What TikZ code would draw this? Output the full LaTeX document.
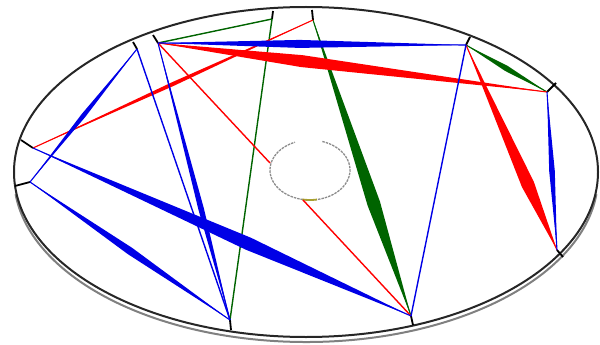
\documentclass[tikz,border=0pt]{standalone}
\usepackage{tikz}
\usetikzlibrary{calc}
\definecolor{chordblue}{HTML}{0000E6}
\definecolor{chordred}{HTML}{FF0000}
\definecolor{chordgreen}{HTML}{006400}
\definecolor{holeolive}{HTML}{A8A030}

% tapered chord: [peak position]{colour}{from}{to}{half width}
\newcommand{\spindle}[5][0.5]{%
  \fill[#2] (#3) -- ($(#3)!#1!(#4)!#5!90:(#4)$) -- (#4) -- ($(#3)!#1!(#4)!#5!-90:(#4)$) -- cycle;
  \draw[#2,line width=1.1pt] (#3) -- (#4);}

\begin{document}
\begin{tikzpicture}[x=1pt,y=-1pt,
  rim/.style={draw=black!85,line width=2pt},
  rimlow/.style={draw=black!50,line width=2pt},
  hole/.style={draw=black!45,dash pattern=on 2.5pt off 1pt,line width=1.3pt},
  tick/.style={draw=black,line width=1.8pt},
  thin/.style={line width=1.4pt}]

\useasboundingbox (0,0) rectangle (600,345);

% disc and hole
\draw[rimlow] (306,177) ++(6:292 and 165) arc [start angle=6,end angle=174,x radius=292,y radius=165];
\draw[rim] (306,172) ellipse [x radius=292,y radius=165];
\draw[hole] (310,170) ++(288:40 and 30) arc [start angle=288,end angle=608,x radius=40,y radius=30];
\draw[holeolive,line width=1.8pt] (310,170) ++(80:40 and 30) arc [start angle=80,end angle=101,x radius=40,y radius=30];

% points on the rim
\coordinate (a) at (137,49);  \coordinate (a-out) at (133,42);
\coordinate (b) at (158,43);  \coordinate (b-out) at (153,35);
\coordinate (c) at (272,19);  \coordinate (c-out) at (273,11);
\coordinate (d) at (313,20);  \coordinate (d-out) at (312,10);
\coordinate (e) at (466,45);  \coordinate (e-out) at (470,37);
\coordinate (f) at (547,92);  \coordinate (f-out) at (556,83);
\coordinate (g) at (557,250); \coordinate (g-out) at (563,257);
\coordinate (h) at (411,316); \coordinate (h-out) at (413,325);
\coordinate (i) at (230,320); \coordinate (i-out) at (231,330);
\coordinate (j) at (30,182);  \coordinate (j-out) at (15,186);
\coordinate (k) at (33,148);  \coordinate (k-out) at (21,140);
% points on the hole
\coordinate (hl) at (270,163);
\coordinate (hb) at (303,200);

\foreach \v in {a,b,c,d,e,f,g,h,i,j,k}
  \draw[tick] (\v) -- (\v-out);

% green
\draw[chordgreen,thin] (b) -- (c);
\draw[chordgreen,thin] (c) -- (i);
\spindle[0.62]{chordgreen}{d}{h}{6.5pt}
\spindle{chordgreen}{e}{f}{2.8pt}

% red
\spindle{chordred}{k}{d}{2pt}
\spindle[0.37]{chordred}{b}{f}{6pt}
\spindle[0.68]{chordred}{e}{g}{6.5pt}
\draw[chordred,thin] (b) -- (hl);
\draw[chordred,thin] (hb) -- (h);

% blue
\spindle{chordblue}{a}{j}{2.3pt}
\spindle[0.57]{chordblue}{k}{h}{6.5pt}
\spindle{chordblue}{j}{i}{3.8pt}
\draw[chordblue,thin] (a) -- (i);
\spindle[0.6]{chordblue}{b}{i}{2.8pt}
\spindle[0.46]{chordblue}{b}{e}{4pt}
\draw[chordblue,thin] (e) -- (h);
\spindle{chordblue}{f}{g}{2.8pt}
\end{tikzpicture}
\end{document}
